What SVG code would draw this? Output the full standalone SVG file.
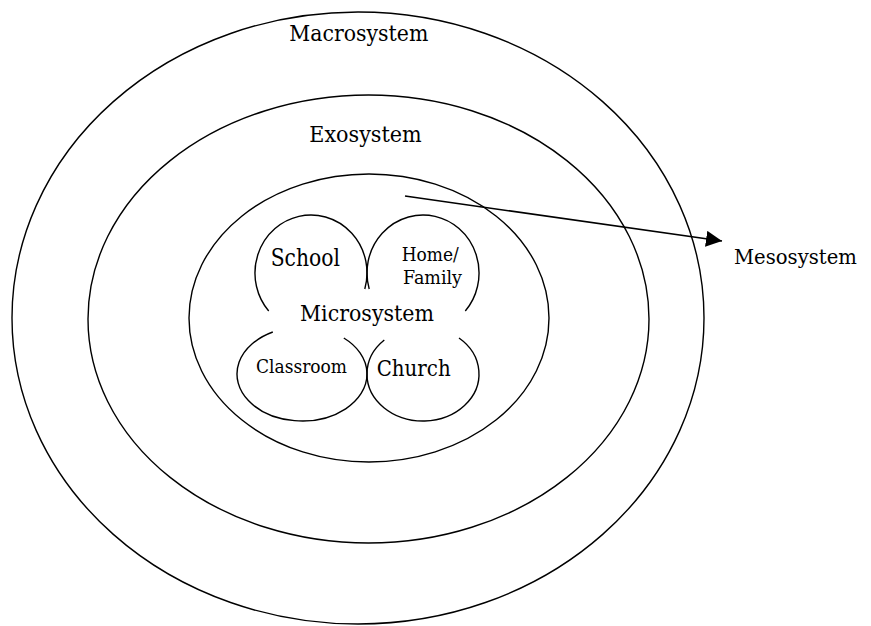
<svg xmlns="http://www.w3.org/2000/svg" width="871" height="626" viewBox="0 0 871 626">
<style>
.ring{fill:none;stroke:#000;stroke-width:1.4}
.petal{fill:none;stroke:#000;stroke-width:1.4}
.lbl{font-family:"DejaVu Serif","Liberation Serif",serif;fill:#000}
</style>
<defs>
<marker id="ah" markerUnits="userSpaceOnUse" markerWidth="18" markerHeight="18" refX="16" refY="8" orient="auto">
<path d="M0,0 L16,8 L0,16 Z" fill="#000"/>
</marker>
</defs>
<rect width="871" height="626" fill="#fff"/>
<g id="macrosystem">
<ellipse class="ring" cx="358" cy="318" rx="346" ry="306"/>
<text class="lbl" x="289.3" y="41" font-size="22" textLength="139" lengthAdjust="spacingAndGlyphs">Macrosystem</text>
</g>
<g id="exosystem">
<ellipse class="ring" cx="368.5" cy="319" rx="280.5" ry="224"/>
<text class="lbl" x="309.3" y="142" font-size="22" textLength="112.4" lengthAdjust="spacingAndGlyphs">Exosystem</text>
</g>
<g id="microsystem">
<ellipse class="ring" cx="369" cy="318" rx="180" ry="144"/>
<text class="lbl" x="300" y="320.5" font-size="22" textLength="134" lengthAdjust="spacingAndGlyphs">Microsystem</text>
</g>
<g id="school">
<path class="petal" d="M268.7 311 A56 58 0 1 1 364.8 289"/>
<text class="lbl" x="270.7" y="265.5" font-size="24" textLength="69.3" lengthAdjust="spacingAndGlyphs">School</text>
</g>
<g id="home">
<path class="petal" stroke-width="1.1" d="M369.2 289 A56 58 0 1 1 465.3 311"/>
<text class="lbl" x="401.7" y="261" font-size="18" textLength="57" lengthAdjust="spacingAndGlyphs">Home/</text>
<text class="lbl" x="403" y="284" font-size="18" textLength="59" lengthAdjust="spacingAndGlyphs">Family</text>
</g>
<g id="classroom">
<path class="petal" d="M272.8 332 A65 47 0 1 0 343.8 338"/>
<text class="lbl" x="256" y="372.7" font-size="18" textLength="91" lengthAdjust="spacingAndGlyphs">Classroom</text>
</g>
<g id="church">
<path class="petal" d="M384.3 340 A56 47 0 1 0 459 338"/>
<text class="lbl" x="376.7" y="376" font-size="23" textLength="74" lengthAdjust="spacingAndGlyphs">Church</text>
</g>
<g id="mesosystem">
<text class="lbl" x="734" y="264" font-size="21" textLength="123" lengthAdjust="spacingAndGlyphs">Mesosystem</text>
</g>
<g id="connectors">
<line x1="405" y1="196" x2="722" y2="241" stroke="#000" stroke-width="1.5" marker-end="url(#ah)"/>
</g>
</svg>
